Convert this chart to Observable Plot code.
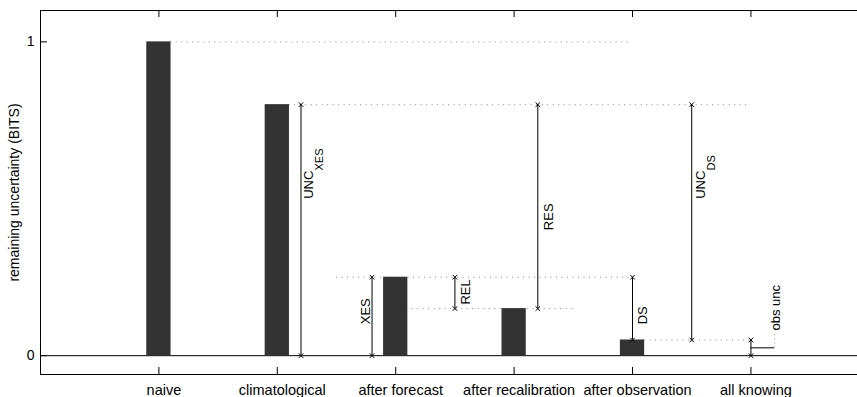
<!DOCTYPE html>
<html><head><meta charset="utf-8">
<script src="https://cdn.jsdelivr.net/npm/d3@7"></script>
<script src="https://cdn.jsdelivr.net/npm/@observablehq/plot@0.6"></script>
<style>body{margin:0;background:#fff} svg{display:block}</style>
</head><body><div id="chart"></div>
<script>
// categories and bar values
const categories = ["naive", "climatological", "after forecast", "after recalibration", "after observation", "all knowing"];
const positions = [1, 2, 3, 4, 5, 6];
const values = [1, 0.80, 0.25, 0.15, 0.05, 0];
const yTicks = [0, 1];
const xDomain = [0, 6.9];
const yDomain = [-0.06, 1.1];

// dotted reference levels
const refY  = [1, 0.8, 0.25, 0.15, 0.05];
const refX1 = [1.1, 2.1, 2.5, 3.0, 5.1];
const refX2 = [5.0, 6.0, 5.0, 4.5, 6.0];

// vertical "difference" lines
const arrowX  = [2.2, 2.8, 3.5, 4.2, 5.0, 5.5, 6.0];
const arrowY1 = [0, 0, 0.15, 0.15, 0.05, 0.05, 0];
const arrowY2 = [0.8, 0.25, 0.25, 0.8, 0.25, 0.8, 0.05];

// annotation labels (rotated)
const labelText = ["UNC", "XES", "REL", "RES", "DS", "UNC", "obs unc"];
const labelX = [2.27, 2.746, 3.595, 4.295, 5.09, 5.58, 6.21];
const labelY = [0.5, 0.10, 0.163, 0.40, 0.10, 0.5, 0.08];
const subText = ["XES", "DS"];
const subX = [2.355, 5.67];
const subY = [0.59, 0.59];

// obs unc leader
const leaderX = [6.0, 6.2];
const leaderY = [0.025, 0.075];

const bars = positions.map((p, i) => ({pos: p, value: values[i]}));
const refs = refY.map((y, i) => ({y, x1: refX1[i], x2: refX2[i]}));
const arrows = arrowX.map((x, i) => ({x, y1: arrowY1[i], y2: arrowY2[i]}));
const ends = arrows.flatMap(d => [{x: d.x, y: d.y1}, {x: d.x, y: d.y2}]);
const labels = labelText.map((t, i) => ({t, x: labelX[i], y: labelY[i]}));
const subs = subText.map((t, i) => ({t, x: subX[i], y: subY[i]}));
const BW = 0.205;

const W = 857, H = 397, ML = 40, MR = 0, MT = 10, MB = 23;
const TICK = 7;
const frameW = W - ML - MR, frameH = H - MT - MB;
// tick length converted to data units
const tY = TICK * (yDomain[1] - yDomain[0]) / frameH;
const tX = TICK * (xDomain[1] - xDomain[0]) / frameW;
const xTickRows = positions.flatMap(p => [
  {x: p, y1: yDomain[0], y2: yDomain[0] + tY},
  {x: p, y1: yDomain[1] - tY, y2: yDomain[1]}
]);
const yTickRows = yTicks.map(v => ({y: v, x1: xDomain[0], x2: xDomain[0] + tX}));

const chart = Plot.plot({
  width: W, height: H,
  marginLeft: ML, marginRight: MR, marginTop: MT, marginBottom: MB,
  x: {domain: xDomain},
  y: {domain: yDomain},
  style: {fontFamily: "'Liberation Sans', Arial, sans-serif", background: "white", color: "black"},
  marks: [
    Plot.ruleY(refs, {y: "y", x1: "x1", x2: "x2", stroke: "#888", strokeDasharray: "1,4.5"}),
    Plot.ruleX([leaderX[1]], {y1: leaderY[0], y2: leaderY[1], stroke: "#888", strokeDasharray: "1,3"}),
    Plot.ruleY([0], {stroke: "black"}),
    Plot.rect(bars, {x1: d => d.pos - BW / 2, x2: d => d.pos + BW / 2, y1: 0, y2: "value", fill: "#333"}),
    Plot.ruleX(arrows, {x: "x", y1: "y1", y2: "y2", stroke: "black"}),
    Plot.ruleY([leaderY[0]], {x1: leaderX[0], x2: leaderX[1], stroke: "black"}),
    Plot.dot(ends, {x: "x", y: "y", symbol: "times", r: 2.2, stroke: "black", strokeWidth: 1}),
    Plot.text(labels, {x: "x", y: "y", text: "t", rotate: -90, textAnchor: "start", lineAnchor: "middle", fontSize: 13, fill: "black"}),
    Plot.text(subs, {x: "x", y: "y", text: "t", rotate: -90, textAnchor: "start", lineAnchor: "middle", fontSize: 11, fill: "black"}),
    // frame (left, top, bottom)
    Plot.ruleX([xDomain[0]], {stroke: "black"}),
    Plot.ruleY([yDomain[1], yDomain[0]], {stroke: "black"}),
    // inward ticks
    Plot.ruleX(xTickRows, {x: "x", y1: "y1", y2: "y2", stroke: "black"}),
    Plot.ruleY(yTickRows, {y: "y", x1: "x1", x2: "x2", stroke: "black"}),
    // axis labels
    Plot.axisY(yTicks, {anchor: "left", tickSize: 0, tickPadding: 6, fontSize: 14, tickFormat: d => String(d),
      label: "remaining uncertainty (BITS)", labelAnchor: "center", labelArrow: "none", labelOffset: 31}),
    Plot.axisX(positions, {anchor: "bottom", tickSize: 0, tickPadding: 10, dx: 5, fontSize: 14.5,
      tickFormat: d => categories[d - 1], label: null})
  ]
});
document.getElementById("chart").append(chart);
</script>
</body></html>
